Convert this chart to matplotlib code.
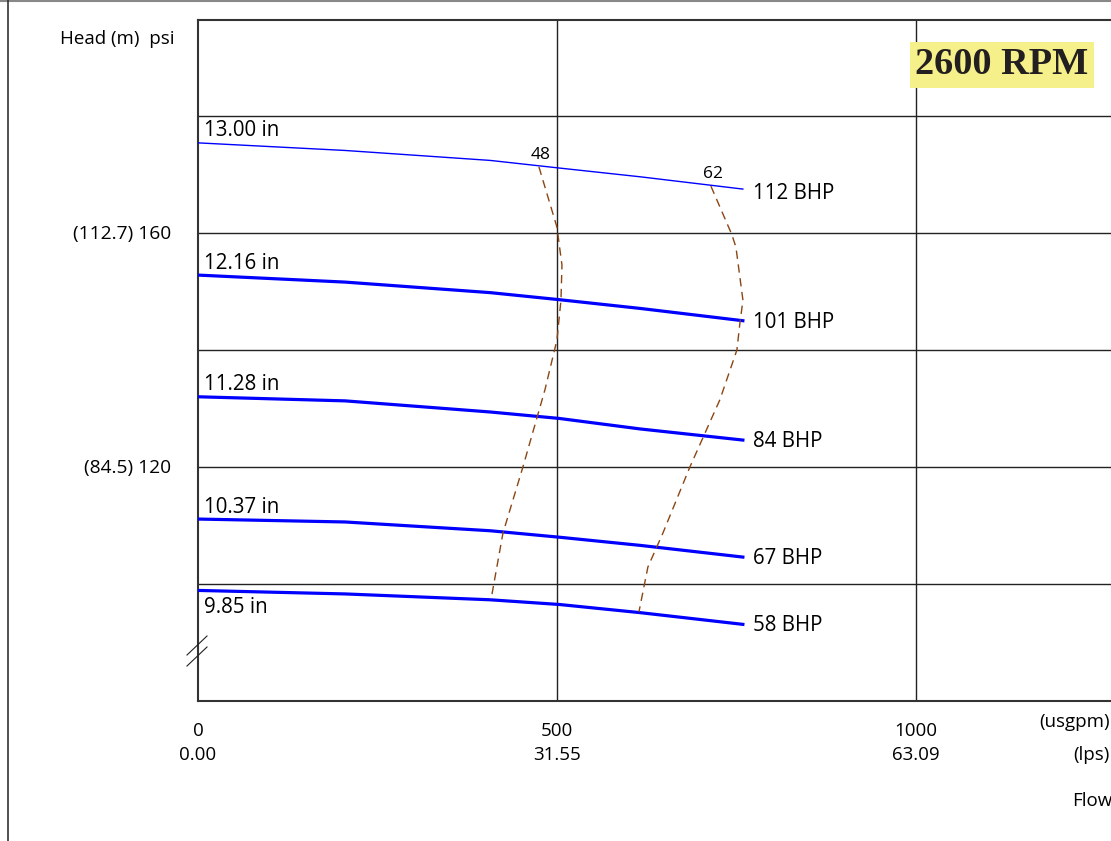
"""Curva de bomba a 2600 RPM: carga vs caudal para varios diámetros de impulsor."""

import matplotlib
matplotlib.use("Agg")
import matplotlib.pyplot as plt
from matplotlib.lines import Line2D

plt.rcParams["font.family"] = ["Open Sans", "DejaVu Sans"]

# caudal (usgpm) en el que se leyeron los puntos de cada curva
flow_pts = [0, 205, 407, 503, 616, 759]

# carga (psi) por diámetro de impulsor
diameters = ["13.00 in", "12.16 in", "11.28 in", "10.37 in", "9.85 in"]
bhp_labels = ["112 BHP", "101 BHP", "84 BHP", "67 BHP", "58 BHP"]
head_1300 = [175.4, 174.1, 172.4, 171.1, 169.6, 167.5]
head_1216 = [152.8, 151.6, 149.8, 148.6, 147.1, 145.0]
head_1128 = [132.0, 131.3, 129.4, 128.3, 126.5, 124.6]
head_1037 = [111.1, 110.6, 109.1, 108.0, 106.6, 104.6]
head_985 = [98.9, 98.3, 97.3, 96.5, 95.1, 93.1]
heads = [head_1300, head_1216, head_1128, head_1037, head_985]

# curvas de eficiencia (%)
eff_labels = ["48", "62"]
eff48_flow = [474.9, 500.0, 507.0, 505.6, 500.0, 483.3, 452.6, 424.8, 408.1]
eff48_head = [171.3, 161.0, 154.5, 148.5, 141.7, 133.2, 120.0, 108.7, 97.3]
eff62_flow = [714.5, 743.7, 749.3, 759.1, 754.9, 750.7, 727.0, 685.2, 647.6, 626.7, 614.2]
eff62_head = [168.0, 159.7, 157.6, 148.5, 144.6, 140.0, 131.5, 120.0, 108.7, 102.9, 95.2]

x_ticks = [0, 500, 1000]
x_tick_usgpm = ["0", "500", "1000"]
x_tick_lps = ["0.00", "31.55", "63.09"]
y_ticks = [160, 120]
y_tick_labels = ["(112.7) 160", "(84.5) 120"]

W, H = 1111, 841
fig = plt.figure(figsize=(W / 100, H / 100), dpi=100)
# el área de la gráfica sigue más allá del borde derecho de la imagen
ax = fig.add_axes([198 / W, (H - 701) / H, 1000 / W, 681 / H])
ax.set_xlim(0, 1393)
ax.set_ylim(80, 196.4)

ax.set_xticks([500, 1000])
ax.set_yticks([100, 120, 140, 160, 180])
ax.tick_params(length=0, labelbottom=False, labelleft=False)
ax.grid(True, color="#222222", lw=1.0)
for side in ["left", "top", "bottom"]:
    ax.spines[side].set_color("#333333")
    ax.spines[side].set_linewidth(1.5)
ax.spines["right"].set_visible(False)

for i, (name, bhp, head) in enumerate(zip(diameters, bhp_labels, heads)):
    lw = 1.0 if i == 0 else 2.3
    ax.plot(flow_pts, head, color="#0000FF", lw=lw, zorder=3)
    dy = -12 if i == len(heads) - 1 else 8.6
    ax.annotate(name, (flow_pts[0], head[0]), xytext=(4.5, dy), textcoords="offset points",
                ha="left", va="center", fontsize=14.8, annotation_clip=False)
    by = -3.5 if i == 0 else -1
    ax.annotate(bhp, (flow_pts[-1], head[-1]), xytext=(7.5, by), textcoords="offset points",
                ha="left", va="center", fontsize=14.8)

for lab, fx, hy in [(eff_labels[0], eff48_flow, eff48_head), (eff_labels[1], eff62_flow, eff62_head)]:
    ax.plot(fx, hy, color="#8B4513", lw=1.0, ls=(0, (6, 4)), zorder=4)
    ax.annotate(lab, (fx[0], hy[0]), xytext=(1.5, 8.6), textcoords="offset points",
                ha="center", va="center", fontsize=12.5)

# etiquetas de ejes fuera del área
for xv, a, b in zip(x_ticks, x_tick_usgpm, x_tick_lps):
    ax.annotate(a, (xv, 80), xytext=(0, -21.6), textcoords="offset points",
                ha="center", va="center", fontsize=13.5, annotation_clip=False)
    ax.annotate(b, (xv, 80), xytext=(0, -39), textcoords="offset points",
                ha="center", va="center", fontsize=13.5, annotation_clip=False)
for yv, lab in zip(y_ticks, y_tick_labels):
    ax.annotate(lab, (0, yv), xytext=(-19, -1), textcoords="offset points",
                ha="right", va="center", fontsize=13.8, annotation_clip=False)

fig.text(174 / W, 1 - 39 / H, "Head (m)  psi", ha="right", va="center", fontsize=13.5)
fig.text(1110 / W, 1 - 722 / H, "(usgpm)", ha="right", va="center", fontsize=13.5)
fig.text(1110 / W, 1 - 755 / H, "(lps)", ha="right", va="center", fontsize=13.5)
fig.text(1072 / W, 1 - 801 / H, "Flow", ha="left", va="center", fontsize=13.5)

fig.text(1002 / W, 1 - 65 / H, "2600 RPM", ha="center", va="center", fontsize=27.5,
         family="Liberation Serif", weight="bold", color="#231F20",
         bbox=dict(boxstyle="square,pad=0.15", fc="#F5F08A", ec="none"))

# marcas de corte del eje vertical
for y0 in [655, 666]:
    fig.add_artist(Line2D([187 / W, 207 / W], [1 - y0 / H, 1 - (y0 - 19) / H],
                          color="#222222", lw=0.8))

# borde de la página
fig.add_artist(Line2D([0, 1], [1 - 0.5 / H, 1 - 0.5 / H], color="#888888", lw=1.5))
fig.add_artist(Line2D([7.5 / W, 7.5 / W], [0, 1], color="#333333", lw=1.2))

fig.savefig("out.png", dpi=100)
